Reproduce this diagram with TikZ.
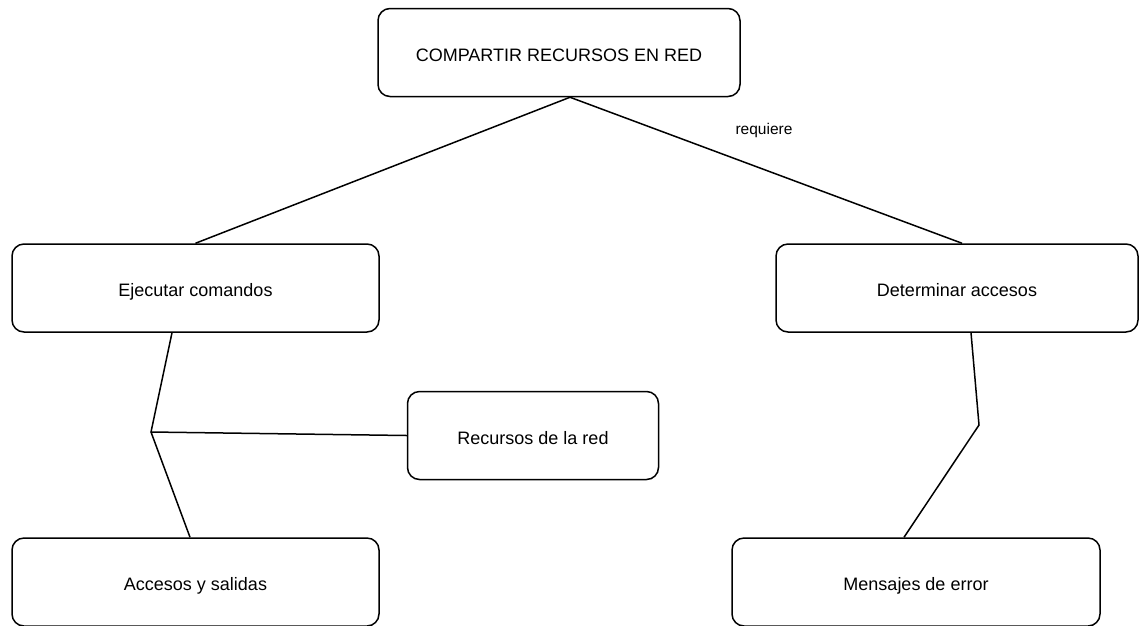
\documentclass[tikz,border=0pt]{standalone}
\usepackage{fontspec}
\setmainfont{Liberation Sans}
\begin{document}
\begin{tikzpicture}[x=1pt,y=-1pt,
  concept/.style={draw=black,line width=1.5pt,rounded corners=12pt,
    minimum width=#1,minimum height=88pt,inner sep=0pt,
    text height=21pt,text depth=4pt,
    font=\fontsize{18}{22}\selectfont},
  concept/.default=367pt,
  link/.style={draw=black,line width=1.5pt},
  lbl/.style={font=\fontsize{15.5}{19}\selectfont,inner sep=0pt}]
\useasboundingbox (0,0) rectangle (1139,625);

% concept boxes
\node[concept=362pt] (top)  at (559,52.5)  {COMPARTIR RECURSOS EN RED};
\node[concept]       (ejec) at (195.5,288) {Ejecutar comandos};
\node[concept=362pt] (det)  at (957,288)   {Determinar accesos};
\node[concept=251pt] (rec)  at (533,435.5) {Recursos de la red};
\node[concept]       (acc)  at (195.5,582) {Accesos y salidas};
\node[concept=368pt] (mens) at (916,582)   {Mensajes de error};

% branch points
\coordinate (J) at (151,432);
\coordinate (K) at (979,425);

% connectors
\draw[link] ([xshift=11pt]top.south) -- (ejec.north);
\draw[link] ([xshift=11pt]top.south) -- ([xshift=5pt]det.north);
\node[lbl] (req) at (764,130) {requiere};

\draw[link] ([xshift=-23.5pt]ejec.south) -- (J) -- ([xshift=-5.5pt]acc.north);
\draw[link] (J) -- (rec.west);

\draw[link] ([xshift=14pt]det.south) -- (K) -- ([xshift=-12pt]mens.north);
\end{tikzpicture}
\end{document}
